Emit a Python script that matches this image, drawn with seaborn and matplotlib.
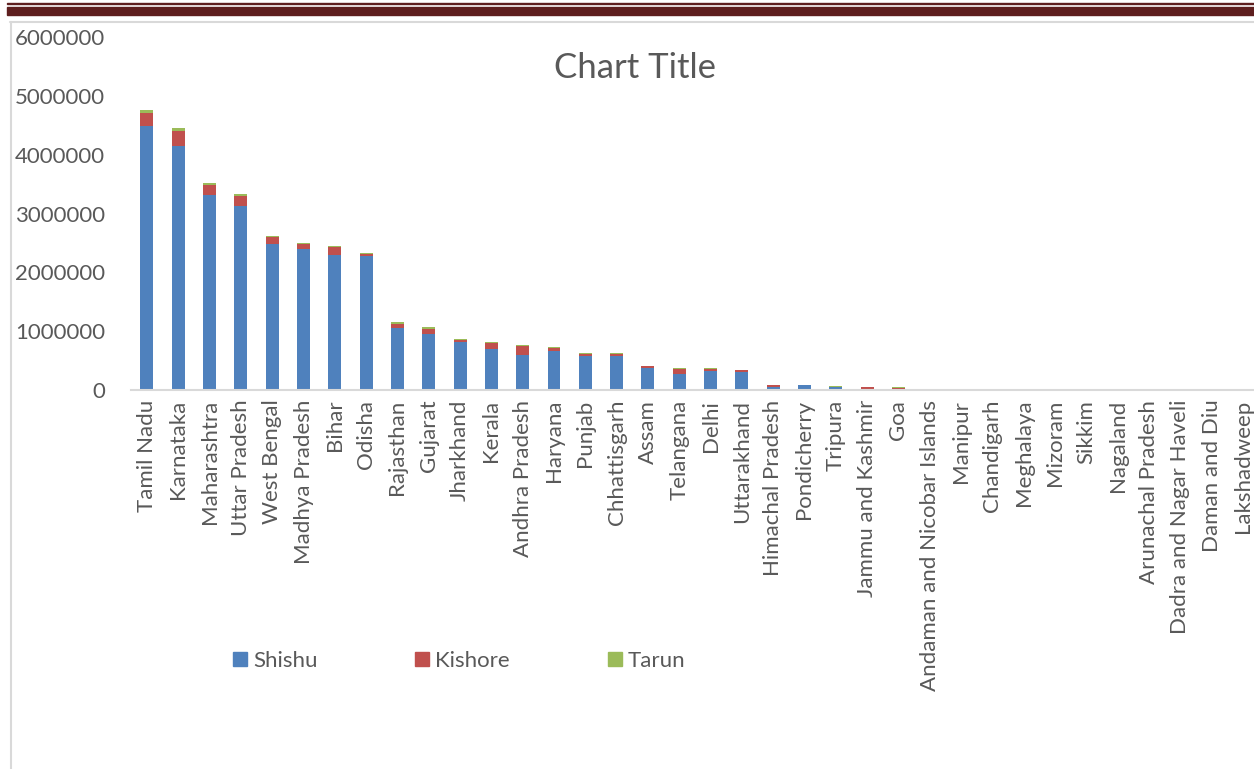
import matplotlib
matplotlib.use("Agg")
import matplotlib.pyplot as plt
from matplotlib.patches import Rectangle
from matplotlib.lines import Line2D
from matplotlib.ticker import FixedLocator, StrMethodFormatter
import seaborn as sns
import pandas as pd
import numpy as np

states = ["Tamil Nadu", "Karnataka", "Maharashtra", "Uttar Pradesh", "West Bengal",
          "Madhya Pradesh", "Bihar", "Odisha", "Rajasthan", "Gujarat", "Jharkhand",
          "Kerala", "Andhra Pradesh", "Haryana", "Punjab", "Chhattisgarh", "Assam",
          "Telangana", "Delhi", "Uttarakhand", "Himachal Pradesh", "Pondicherry",
          "Tripura", "Jammu and Kashmir", "Goa", "Andaman and Nicobar Islands",
          "Manipur", "Chandigarh", "Meghalaya", "Mizoram", "Sikkim", "Nagaland",
          "Arunachal Pradesh", "Dadra and Nagar Haveli", "Daman and Diu", "Lakshadweep"]

shishu = [4490000, 4140000, 3320000, 3130000, 2480000, 2395000, 2300000, 2270000,
          1060000, 955000, 810000, 690000, 590000, 670000, 575000, 585000, 370000,
          270000, 320000, 305000, 56000, 80000, 45000, 20000, 20000, 13000, 12000,
          12000, 11000, 3000, 2500, 1500, 1500, 1000, 800, 300]
kishore = [225000, 260000, 160000, 160000, 120000, 85000, 130000, 45000, 60000,
           80000, 40000, 110000, 160000, 40000, 40000, 25000, 35000, 95000, 30000,
           35000, 30000, 5000, 5000, 30000, 20000, 4000, 4000, 4000, 4000, 1000,
           800, 500, 500, 300, 200, 100]
tarun = [45000, 50000, 45000, 40000, 25000, 25000, 17000, 17000, 30000, 40000,
         10000, 20000, 17000, 15000, 17000, 15000, 10000, 10000, 30000, 5000, 5000,
         5000, 10000, 3000, 3000, 4000, 4000, 4000, 4000, 500, 500, 300, 300, 200,
         200, 100]

series_names = ["Shishu", "Kishore", "Tarun"]
series_colors = ["#4F81BD", "#C0504D", "#9BBB59"]
yticks = [0, 1000000, 2000000, 3000000, 4000000, 5000000, 6000000]
title = "Chart Title"

sns.set_theme(style="white")
plt.rcParams["font.family"] = ["Lato", "DejaVu Sans"]
TXT = "#595959"
FS = 16

W, H = 1254, 769
fig = plt.figure(figsize=(W / 100, H / 100), dpi=100)
fig.patch.set_facecolor("white")

# decorative page lines and chart border
fig.patches.append(Rectangle((7 / W, 1 - 4.3 / H), (W - 7) / W, 1.3 / H,
                             transform=fig.transFigure, color="#5E1F1F", zorder=0))
fig.patches.append(Rectangle((7 / W, 1 - 15 / H), (W - 7) / W, 8.3 / H,
                             transform=fig.transFigure, color="#5E1F1F", zorder=0))
fig.lines.append(Line2D([11 / W, 11 / W], [0, 1 - 22 / H], transform=fig.transFigure,
                        color="#D9D9D9", lw=1.5))
fig.lines.append(Line2D([10 / W, 1], [1 - 22 / H, 1 - 22 / H], transform=fig.transFigure,
                        color="#D9D9D9", lw=1.5))

left_px, right_px = 131.3, 1258.5
top_px, base_px = 37, 390
ax = fig.add_axes([left_px / W, (H - base_px) / H, (right_px - left_px) / W,
                   (base_px - top_px) / H])
ax.set_facecolor("none")

df = pd.DataFrame({"State": states, "Shishu": shishu, "Kishore": kishore, "Tarun": tarun})
df["c_tarun"] = df["Shishu"] + df["Kishore"] + df["Tarun"]
df["c_kishore"] = df["Shishu"] + df["Kishore"]
df["c_shishu"] = df["Shishu"]

for col, colr in zip(["c_tarun", "c_kishore", "c_shishu"], series_colors[::-1]):
    sns.barplot(data=df, x="State", y=col, order=states, color=colr, saturation=1,
                width=0.415, linewidth=0, ax=ax, errorbar=None)

ax.set_ylim(0, 6000000)
ax.set_xlim(-0.5, len(states) - 0.5)
ax.yaxis.set_major_locator(FixedLocator(yticks))
ax.yaxis.set_major_formatter(StrMethodFormatter("{x:.0f}"))
ax.set_xlabel("")
ax.set_ylabel("")
ax.tick_params(axis="y", length=0, pad=19, labelsize=FS, labelcolor=TXT)
ax.tick_params(axis="x", length=0, pad=7, labelsize=FS, labelcolor=TXT, rotation=90)
for s in ["left", "top", "right"]:
    ax.spines[s].set_visible(False)
ax.spines["bottom"].set_color("#D9D9D9")
ax.spines["bottom"].set_linewidth(1.5)
ax.grid(False)

fig.text(635 / W, (H - 68) / H, title, ha="center", va="center", fontsize=25, color=TXT)

handles = [Rectangle((0, 0), 1, 1, color=c) for c in series_colors]
fig.legend(handles, series_names, loc="center left",
           bbox_to_anchor=(233 / W, (H - 661) / H), bbox_transform=fig.transFigure,
           ncol=3, frameon=False, fontsize=FS, labelcolor=TXT,
           handlelength=0.63, handleheight=0.63, handletextpad=0.27,
           columnspacing=4.4, borderpad=0, borderaxespad=0)

fig.savefig("out.png", dpi=100, facecolor="white")
